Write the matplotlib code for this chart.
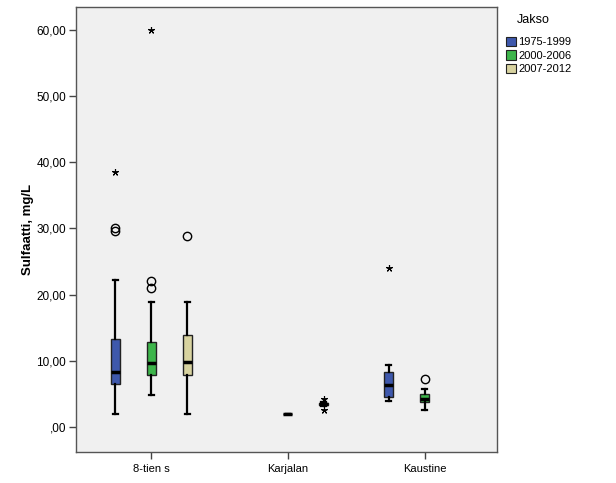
import matplotlib
matplotlib.use("Agg")
import matplotlib.pyplot as plt
from matplotlib.patches import Patch
from matplotlib.ticker import FuncFormatter

plt.rcParams['font.family'] = ['Liberation Sans', 'DejaVu Sans']

categories = ["8-tien s", "Karjalan", "Kaustine"]
periods = ["1975-1999", "2000-2006", "2007-2012"]
colors = ["#3E58AC", "#3DB54B", "#D8D3A0"]

# (category index, period index, whislo, q1, med, q3, whishi)
box_cat = [0, 0, 0, 1, 1, 2, 2]
box_per = [0, 1, 2, 1, 2, 0, 1]
whislo = [2.0, 4.8, 2.0, 2.05, 3.2, 4.0, 2.6]
q1 = [6.6, 7.9, 7.9, 2.05, 3.3, 4.5, 3.8]
med = [8.4, 9.7, 9.9, 2.05, 3.5, 6.4, 4.2]
q3 = [13.3, 12.9, 13.9, 2.05, 3.7, 8.4, 5.0]
whishi = [22.2, 18.9, 18.9, 2.05, 3.8, 9.4, 5.8]
outliers = [[29.6, 30.0], [21.0, 22.0], [28.9], [], [], [], [7.3]]
extremes = [[38.5], [60.0], [], [], [4.3, 2.6], [24.0], []]

offset = 0.263
fig = plt.figure(figsize=(6.16, 4.83), dpi=100)
ax = fig.add_axes([0.1234, 0.0648, 0.6836, 0.9207])
ax.set_facecolor("#F0F0F0")

stats = []
positions = []
for i in range(len(box_cat)):
    stats.append(dict(whislo=whislo[i], q1=q1[i], med=med[i], q3=q3[i],
                      whishi=whishi[i], fliers=[]))
    positions.append(box_cat[i] + (box_per[i] - 1) * offset)

bp = ax.bxp(stats, positions=positions, widths=0.066, patch_artist=True,
            showfliers=False,
            whiskerprops=dict(color="black", lw=1.6),
            capprops=dict(color="black", lw=1.6),
            medianprops=dict(color="black", lw=2.5),
            boxprops=dict(edgecolor="#222222", lw=1.0),
            capwidths=0.035, manage_ticks=False)
for patch, p in zip(bp['boxes'], box_per):
    patch.set_facecolor(colors[p])

for i, pos in enumerate(positions):
    if outliers[i]:
        ax.plot([pos] * len(outliers[i]), outliers[i], linestyle="none",
                marker="o", mfc="none", mec="black", ms=6, mew=1)
    if extremes[i]:
        ax.plot([pos] * len(extremes[i]), extremes[i], linestyle="none",
                marker=(5, 2, 0), color="black", ms=5, mew=0.8)

ax.set_xlim(-0.55, 2.53)
ax.set_ylim(-3.68, 63.4)
ax.set_xticks(range(len(categories)))
ax.set_xticklabels(categories, fontsize=8)
ax.set_yticks([0, 10, 20, 30, 40, 50, 60])
ax.yaxis.set_major_formatter(FuncFormatter(
    lambda v, p: (",00" if v == 0 else f"{v:.2f}".replace(".", ","))))
ax.tick_params(axis="y", labelsize=8.5, length=5, width=1, color="#444444", pad=2)
ax.tick_params(axis="x", length=5, width=1, color="#444444")
for s in ax.spines.values():
    s.set_color("#555555")
    s.set_linewidth(1.0)
ax.set_ylabel("Sulfaatti, mg/L", fontsize=9.5, fontweight="bold", labelpad=2)

fig.text(517 / 616, 1 - 20 / 483, "Jakso", fontsize=9, ha="left", va="center")
handles = [Patch(facecolor=c, edgecolor="#222222", lw=0.8) for c in colors]
leg = fig.legend(handles, periods, loc="upper left",
                 bbox_to_anchor=(498 / 616, 1 - 29 / 483), frameon=False, fontsize=8,
                 handlelength=0.9, handleheight=0.9,
                 handletextpad=0.2, labelspacing=0.28, borderpad=0.2)

fig.savefig("out.png", dpi=100, facecolor="white")
